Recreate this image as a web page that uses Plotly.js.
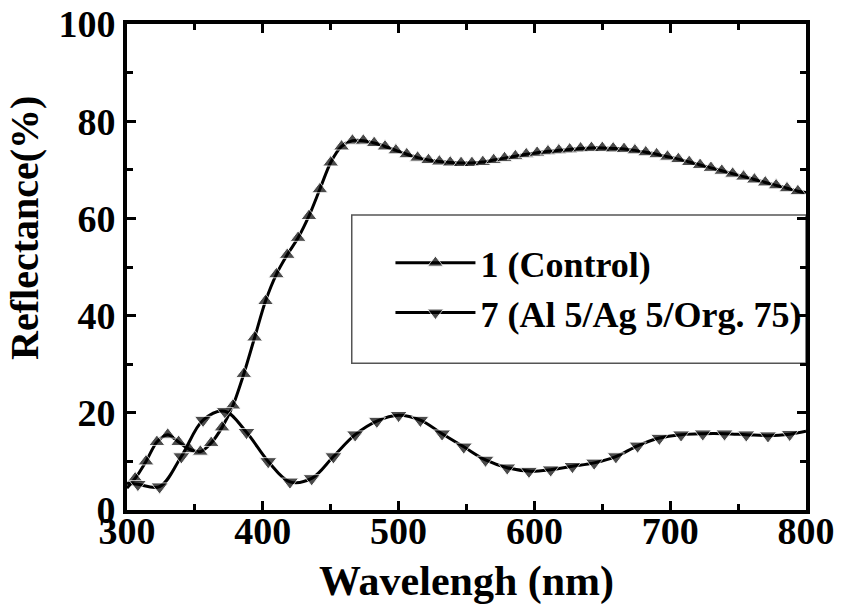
<!DOCTYPE html>
<html>
<head>
<meta charset="utf-8">
<script src="https://cdn.plot.ly/plotly-3.0.1.min.js"></script>
<style>html,body{margin:0;padding:0;background:#fff;}#chart{width:842px;height:605px;}</style>
</head>
<body>
<div id="chart"></div>
<script>
// Series 1 (Control)
const controlX = [300, 306, 314, 322, 330, 338, 346, 354, 362, 370, 378, 386, 394, 402, 410, 418, 426, 434, 442, 450, 458, 466, 474, 482, 490, 498, 506, 514, 522, 530, 538, 546, 554, 562, 570, 578, 586, 594, 602, 610, 618, 626, 634, 642, 650, 658, 666, 674, 682, 690, 698, 706, 714, 722, 730, 738, 746, 754, 762, 770, 778, 786, 794, 800];
const controlY = [4.5, 6.5, 10, 14, 15.5, 14, 12.5, 12, 13.8, 17, 21.5, 28, 35.5, 43, 48.5, 52.5, 56, 60.5, 66, 71.5, 74.8, 76, 76, 75.5, 74.8, 74, 73.2, 72.5, 72, 71.7, 71.5, 71.4, 71.4, 71.6, 72, 72.4, 72.8, 73.2, 73.5, 73.8, 74, 74.2, 74.4, 74.5, 74.5, 74.4, 74.3, 74, 73.6, 73.2, 72.7, 72.2, 71.6, 71, 70.4, 69.8, 69.2, 68.6, 68, 67.4, 66.8, 66.2, 65.6, 65.3];
// Series 7 (Al 5/Ag 5/Org. 75)
const sampleX = [300, 308, 324, 340, 356, 372, 388, 404, 420, 436, 452, 468, 484, 500, 516, 532, 548, 564, 580, 596, 612, 628, 644, 660, 676, 692, 708, 724, 740, 756, 772, 788, 800];
const sampleY = [5.5, 5.3, 4.8, 11, 18.5, 20.3, 16, 10, 5.8, 6.5, 11, 15.5, 18.3, 19.5, 18.5, 15.7, 13, 10.3, 8.7, 8, 8.3, 9, 9.7, 11, 13.2, 14.8, 15.5, 15.7, 15.7, 15.5, 15.3, 15.6, 16.2];
const seriesNames = ['1 (Control)', '7 (Al 5/Ag 5/Org. 75)'];
const xTitle = 'Wavelengh (nm)';
const yTitle = 'Reflectance(%)';

function sizes(xs, s) { return xs.map((x, i) => (i === 0 || i === xs.length - 1) ? 0 : s); }

const font = {family: 'Liberation Serif, Times New Roman, serif', color: '#000', weight: 'bold'};

const traces = [
  {x: controlX, y: controlY, name: seriesNames[0], type: 'scatter', mode: 'lines+markers',
   line: {color: '#000', width: 3, shape: 'spline', smoothing: 0.8},
   marker: {symbol: 'triangle-up', size: sizes(controlX, 14), color: '#000'}},
  {x: sampleX, y: sampleY, name: seriesNames[1], type: 'scatter', mode: 'lines+markers',
   line: {color: '#000', width: 3, shape: 'spline', smoothing: 1},
   marker: {symbol: 'triangle-down', size: sizes(sampleX, 15), color: '#000'}}
];

const axisCommon = {
  showline: true, linewidth: 4, linecolor: '#000', mirror: 'ticks',
  ticks: 'inside', ticklen: 9, tickwidth: 3, tickcolor: '#000',
  showgrid: false, zeroline: false,
  tickfont: Object.assign({size: 38}, font)
};

const layout = {
  width: 842, height: 605,
  margin: {l: 127, r: 36, t: 24, b: 95},
  paper_bgcolor: '#fff', plot_bgcolor: '#fff',
  showlegend: true,
  xaxis: Object.assign({}, axisCommon, {
    range: [300, 800], dtick: 100, tick0: 300,
    ticklabelstandoff: -16,
    minor: {ticks: 'inside', ticklen: 6, tickwidth: 3, tickcolor: '#000', dtick: 50},
    title: {text: xTitle, font: Object.assign({size: 42}, font), standoff: 22}
  }),
  yaxis: Object.assign({}, axisCommon, {
    range: [0, 100], dtick: 20, tick0: 0,
    minor: {ticks: 'inside', ticklen: 6, tickwidth: 3, tickcolor: '#000', dtick: 10}
  }),
  annotations: [{text: yTitle, textangle: -90, xref: 'paper', yref: 'paper',
                 x: -0.152, y: 0.58, xanchor: 'center', yanchor: 'middle', showarrow: false,
                 font: Object.assign({size: 40}, font)}],
  legend: {
    x: 0.388, y: 0.457, xanchor: 'left', yanchor: 'middle',
    bgcolor: 'rgba(0,0,0,0)', borderwidth: 0,
    font: Object.assign({size: 36}, font),
    itemwidth: 80, tracegroupgap: 0
  },
  shapes: [{type: 'rect', xref: 'paper', yref: 'paper', x0: 0.331, x1: 1.0, y0: 0.302, y1: 0.607,
            line: {color: '#555', width: 1.5}, fillcolor: 'rgba(0,0,0,0)', layer: 'below'}]
};

Plotly.newPlot('chart', traces, layout, {displayModeBar: false, staticPlot: true});
</script>
</body>
</html>
